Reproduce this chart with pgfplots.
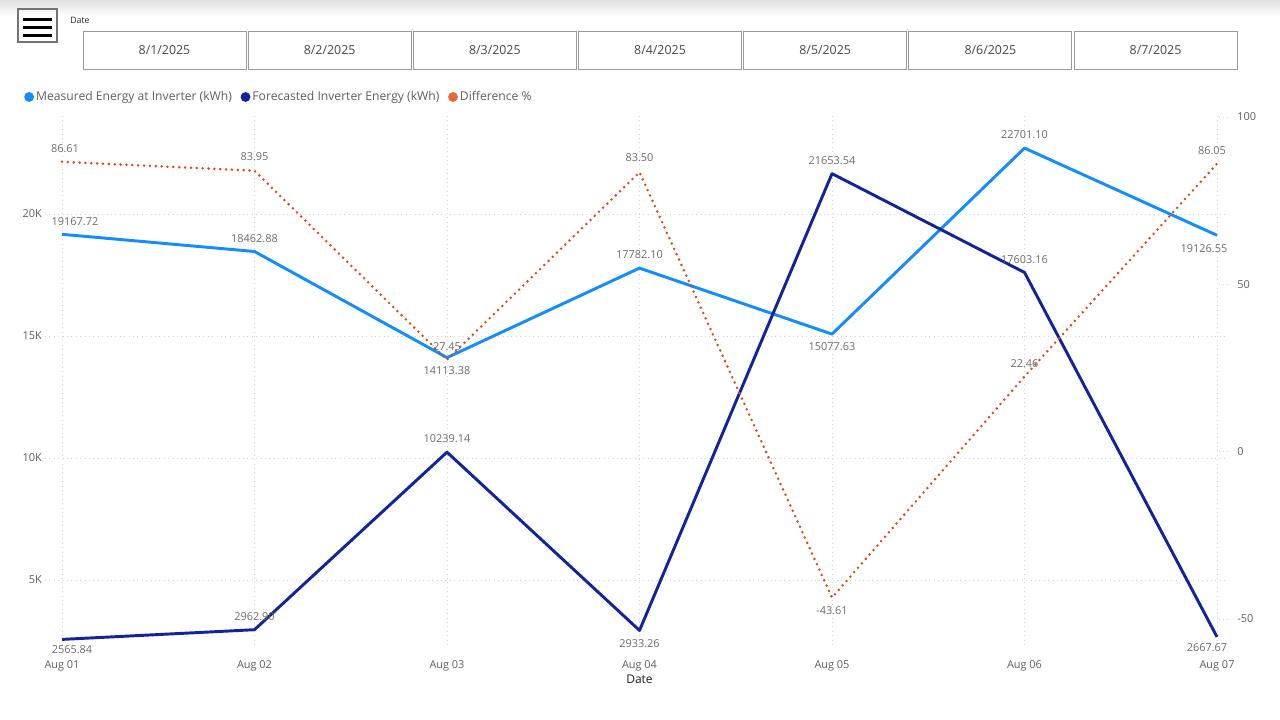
\documentclass[border=0pt]{standalone}
\usepackage{pgfplots}
\pgfplotsset{compat=1.18}
\usepackage{pgfplotstable}
\usepackage{fontspec}
\setmainfont{Open Sans}
\definecolor{meas}{HTML}{118DFF}
\definecolor{fore}{HTML}{12239E}
\definecolor{diff}{HTML}{E66C37}
\definecolor{diffline}{HTML}{E2470F}
\definecolor{lbl}{HTML}{6B6B6B}
\definecolor{tickc}{HTML}{605E5C}
\definecolor{gridc}{HTML}{D4D4D4}
\definecolor{btn}{HTML}{9A9A9A}

\pgfplotstableread{
x y dx dy lab
0 19167.72 9.75 9.75 19167.72
1 18462.88 0 9.4 18462.88
2 14113.38 0 -9.4 14113.38
3 17782.10 0 9.75 17782.10
4 15077.63 0 -9.75 15077.63
5 22701.10 0 9.75 22701.10
6 19126.55 -9.75 -9.75 19126.55
}\measured
\pgfplotstableread{
x y dx dy lab
0 2565.84 7.5 -7.5 2565.84
1 2962.90 0 9.75 2962.90
2 10239.14 0 10.5 10239.14
3 2933.26 0 -9.75 2933.26
4 21653.54 0 9.5 21653.54
5 17603.16 0 9.4 17603.16
6 2667.67 -7.5 -8.25 2667.67
}\forecast
\pgfplotstableread{
x y dx dy lab
0 86.61 2.25 9.6 86.61
1 83.95 0 10.3 83.95
2 27.45 0 9.6 27.45
3 83.50 0 10.6 83.50
4 -43.61 0 -10 -43.61
5 22.46 0 9.4 22.46
6 86.05 -3.75 9.5 86.05
}\difference

\pgfplotsset{
  base/.style={
    scale only axis, width=887.25pt, height=397.5pt,
    at={(33.75pt,-483.75pt)}, anchor=south west,
    xmin=-0.0883, xmax=6.0571,
    clip=false,
    scaled y ticks=false, scaled x ticks=false,
    axis line style={draw=none},
    tick label style={font=\fontsize{8.2}{9}\selectfont, text=tickc},
  },
  lbls/.style={
    nodes near coords,
    point meta=explicit symbolic,
    visualization depends on={\thisrow{dx} \as \dx},
    visualization depends on={\thisrow{dy} \as \dy},
    nodes near coords style={font=\fontsize{8.2}{9}\selectfont, text=lbl, anchor=center, xshift=\dx pt, yshift=\dy pt, inner sep=0pt},
  },
}

\begin{document}
\begin{tikzpicture}
\path[use as bounding box] (0,0) rectangle (960pt,-540pt);
\shade[top color=black!12, bottom color=white] (0,0) rectangle (960pt,-12pt);
\begin{scope}[x=0.75pt,y=-0.75pt]
  % hamburger
  \draw[black!55, line width=1.1pt] (18,9) rectangle (57,42);
  \foreach \yy in {19.5,27.5,35.5} \draw[black, line width=2.3pt] (23,\yy) -- (52,\yy);
  \node[anchor=west, inner sep=0pt, font=\fontsize{6.6}{7}\selectfont, text=black!85] at (70,20) {Date};
  % slicer buttons
  \foreach \i in {0,...,6} {
    \pgfmathsetmacro\xl{83+\i*165.17}
    \pgfmathtruncatemacro\dd{\i+1}
    \draw[btn, line width=0.65pt] (\xl,31) rectangle ++(163,38);
    \node[font=\fontsize{9.3}{10}\selectfont, text=black!72] at (\xl+81.5,50.5) {8/\dd/2025};
  }
\end{scope}

\begin{axis}[base,
  ymin=2336, ymax=24057,
  xtick={0,...,6},
  xticklabels={Aug 01,Aug 02,Aug 03,Aug 04,Aug 05,Aug 06,Aug 07},
  ytick={5000,10000,15000,20000},
  yticklabels={5K,10K,15K,20K},
  major tick length=0pt,
  xmajorgrids, ymajorgrids,
  grid style={gridc, line width=0.7pt, dash pattern=on 0.7pt off 2.6pt},
  xticklabel style={anchor=center, yshift=-15.5pt},
  yticklabel style={anchor=east, xshift=-2.25pt, inner sep=0pt},
  xlabel={Date},
  xlabel style={at={(axis description cs:0.5025,0)}, anchor=center, yshift=-25.75pt, font=\fontsize{9}{10}\selectfont, text=black!88},
  legend columns=3,
  legend style={at={(-0.0178,1.034)}, anchor=west, draw=none, fill=none,
    font=\fontsize{9.1}{10}\selectfont, text=tickc, inner sep=0pt,
    nodes={inner xsep=0pt, inner ysep=1pt},
    /tikz/every odd column/.append style={column sep=1.5pt},
    /tikz/every even column/.append style={column sep=6.5pt}},
  legend image code/.code={\fill[#1] (3.7pt,0pt) circle (3.7pt);},
]
\addplot[meas, line width=2.2pt, line join=round, lbls, forget plot] table[x=x, y=y, meta=lab] {\measured};
\addplot[fore, line width=2.2pt, line join=round, lbls, forget plot] table[x=x, y=y, meta=lab] {\forecast};
\addlegendimage{fill=meas, draw=none}
\addlegendentry{Measured Energy at Inverter (kWh)}
\addlegendimage{fill=fore, draw=none}
\addlegendentry{Forecasted Inverter Energy (kWh)}
\addlegendimage{fill=diff, draw=none}
\addlegendentry{Difference \%}
\end{axis}

\begin{axis}[base,
  ymin=-57.77, ymax=100.6,
  xtick=\empty,
  ytick={-50,0,50,100},
  yticklabels={-50,0,50,100},
  ytick pos=right,
  tick align=inside,
  major tick length=6.75pt,
  tick style={gridc, line width=0.7pt, dash pattern=on 0.7pt off 2.6pt},
  yticklabel style={anchor=west, xshift=6.75pt, inner sep=0pt},
]
\addplot[diffline, line width=2.1pt, line cap=round, dash pattern=on 0pt off 4.4pt, lbls] table[x=x, y=y, meta=lab] {\difference};
\end{axis}
\end{tikzpicture}
\end{document}
